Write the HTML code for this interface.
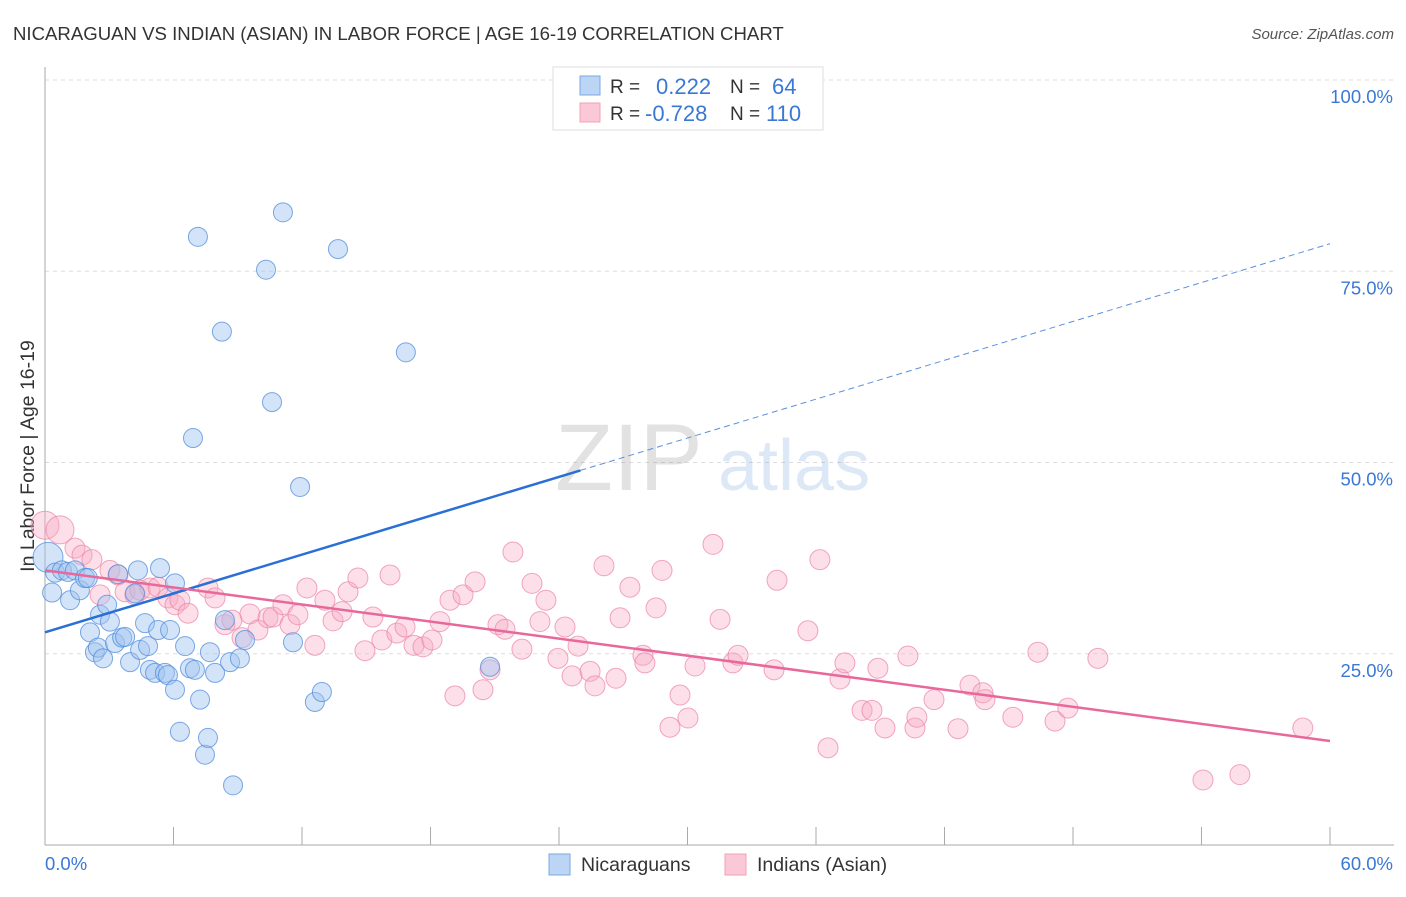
<!DOCTYPE html>
<html><head><meta charset="utf-8"><style>
body{margin:0;background:#fff;font-family:"Liberation Sans",sans-serif;}
svg text{font-family:"Liberation Sans",sans-serif;}
</style></head><body>
<svg id="chart" width="1406" height="892">
<text x="13" y="40" font-size="18.6" fill="#333">NICARAGUAN VS INDIAN (ASIAN) IN LABOR FORCE | AGE 16-19 CORRELATION CHART</text>
<text x="1394" y="39" font-size="15" fill="#555" text-anchor="end" font-style="italic">Source: ZipAtlas.com</text>
<text transform="translate(34,456) rotate(-90)" font-size="19.5" fill="#333" text-anchor="middle">In Labor Force | Age 16-19</text>
<g id="grid"></g>
<g id="wm" opacity="0.18">
<text x="555" y="490" font-size="95" fill="#666" font-family="Liberation Serif">ZIP</text>
<text x="718" y="490" font-size="72" fill="#4a86d8">atlas</text>
</g>
<g id="pts"></g>
<g id="lines"></g>
<g>
<rect x="553" y="67" width="270" height="63" fill="#fff" stroke="#ddd"/>
<rect x="580" y="76" width="20" height="19" fill="#bcd5f5" stroke="#7aa7e3"/>
<rect x="580" y="103" width="20" height="19" fill="#fbc8d7" stroke="#f0a0b8"/>
<text x="610" y="93" font-size="19" fill="#333">R = </text><text x="656" y="94" font-size="22" fill="#3a78d4">0.222</text>
<text x="730" y="93" font-size="19" fill="#333">N = </text><text x="772" y="94" font-size="22" fill="#3a78d4">64</text>
<text x="610" y="120" font-size="19" fill="#333">R = </text><text x="645" y="121" font-size="22" fill="#3a78d4">-0.728</text>
<text x="730" y="120" font-size="19" fill="#333">N = </text><text x="766" y="121" font-size="22" fill="#3a78d4">110</text>
</g>
<g>
<rect x="549" y="854" width="21" height="21" fill="#bcd5f5" stroke="#7aa7e3"/>
<text x="581" y="871" font-size="19.5" fill="#333">Nicaraguans</text>
<rect x="725" y="854" width="21" height="21" fill="#fbc8d7" stroke="#f0a0b8"/>
<text x="757" y="871" font-size="19.5" fill="#333">Indians (Asian)</text>
</g>
</svg>
<script>
const xTicks=[0,6,12,18,24,30,36,42,48,54,60];
const yTicks=[25,50,75,100];
const yTickLabels=["25.0%","50.0%","75.0%","100.0%"];
const xEndLabels=["0.0%","60.0%"];
const nicX=[0.14,0.33,0.47,0.79,1.07,1.17,1.4,1.63,1.87,2.0,2.1,2.33,2.47,2.57,2.71,2.9,3.03,3.27,3.41,3.6,3.74,3.97,4.2,4.34,4.44,4.67,4.81,4.9,5.14,5.28,5.37,5.6,5.74,5.84,6.07,6.07,6.3,6.54,6.77,6.91,7.0,7.14,7.24,7.47,7.61,7.7,7.94,8.26,8.4,8.64,8.78,9.1,9.34,10.32,10.6,11.11,11.58,11.91,12.6,12.93,13.68,16.85,20.78];
const nicY=[37.6,33.0,35.6,35.9,35.7,32.0,35.9,33.3,34.9,34.9,27.8,25.2,25.8,30.1,24.4,31.4,29.2,26.4,35.4,27.1,27.2,23.9,32.9,35.9,25.5,29.0,26.0,22.9,22.5,28.1,36.2,22.5,22.2,28.1,20.3,34.2,14.8,26.0,23.1,53.2,22.9,79.5,19.0,11.8,14.0,25.2,22.5,67.1,29.4,23.9,7.8,24.4,26.8,75.2,57.9,82.7,26.5,46.8,18.7,20.0,77.9,64.4,23.3];
const indX=[0,0.7,1.4,1.73,2.19,2.57,3.03,3.41,3.74,4.2,4.44,4.9,5.28,5.74,6.07,6.3,6.68,7.61,7.94,8.4,8.73,9.2,9.57,9.94,10.41,10.65,11.11,11.44,11.81,12.23,12.6,13.07,13.45,13.87,14.15,14.61,14.94,15.31,15.73,16.11,16.43,16.81,17.23,17.65,18.07,18.44,18.91,19.14,19.52,20.08,20.45,20.78,21.15,21.48,21.85,22.27,22.74,23.11,23.39,23.95,24.28,24.61,24.89,25.45,25.68,26.1,26.66,26.85,27.31,27.92,28.01,28.53,28.81,29.18,29.65,30.02,30.35,31.19,31.52,32.12,32.36,34.04,34.18,35.62,36.18,36.56,37.12,37.35,38.15,38.61,38.89,39.22,40.29,40.62,40.71,41.51,42.63,43.19,43.79,43.89,45.19,46.36,47.16,47.76,49.16,54.07,55.79,58.73];
const indY=[41.8,41.2,38.8,37.9,37.3,32.7,35.9,35.3,33.1,32.7,33.3,33.6,33.7,32.3,31.4,32.0,30.3,33.6,32.3,28.8,29.4,27.1,30.2,28.1,29.7,29.8,31.4,28.8,30.1,33.6,26.1,32.0,29.3,30.5,33.1,34.9,25.4,29.8,26.8,35.3,27.7,28.5,26.1,25.9,26.8,29.2,32.0,19.5,32.7,34.4,20.3,22.9,28.8,28.2,38.3,25.6,34.2,29.2,32.0,24.4,28.5,22.1,26.0,22.7,20.8,36.5,21.8,29.7,33.7,24.8,23.8,31.0,35.9,15.4,19.6,16.6,23.4,39.3,29.5,23.8,24.8,22.9,34.6,28.0,37.3,12.7,21.7,23.8,17.6,17.6,23.1,15.3,24.7,15.3,16.7,19.0,15.2,20.9,19.9,19.0,16.7,25.2,16.2,17.9,24.4,8.5,9.2,15.3];
const nicTrend=[27.8,78.6]; const nicSolidEnd=25.0;
const indTrend=[35.9,13.6];
const NS="http://www.w3.org/2000/svg";
const X0=45,X1=1330,Y0=845,Y100=80;
const sx=v=>X0+(v/60)*(X1-X0);
const sy=v=>Y0-(v/100)*(Y0-Y100);
function mk(tag,attrs,parent){const e=document.createElementNS(NS,tag);for(const k in attrs)e.setAttribute(k,attrs[k]);parent.appendChild(e);return e;}
const grid=document.getElementById('grid');
yTicks.forEach((t,i)=>{
 const l=mk('line',{x1:X0,x2:1394,y1:sy(t),y2:sy(t),stroke:'#ddd','stroke-dasharray':'4,4'},grid);
 
 
 const tx=mk('text',{x:1393,y:sy(t)+23,'font-size':18.5,fill:'#3a78d4','text-anchor':'end'},grid);
 tx.textContent=yTickLabels[i];
 
 
});
const ax=mk('line',{x1:X0,x2:X0,y1:67,y2:Y0,stroke:'#aaa'},grid);


const axx=mk('line',{x1:X0,x2:1394,y1:Y0,y2:Y0,stroke:'#aaa'},grid);


xTicks.forEach(t=>{
 const l=mk('line',{x1:sx(t),x2:sx(t),y1:827,y2:Y0,stroke:'#aaa'},grid);
 
 
});
const xl0=mk('text',{x:X0,y:870,'font-size':18.5,fill:'#3a78d4'},grid);xl0.textContent=xEndLabels[0];


const xl1=mk('text',{x:1393,y:870,'font-size':18.5,fill:'#3a78d4','text-anchor':'end'},grid);xl1.textContent=xEndLabels[1];


const pts=document.getElementById('pts');
indX.forEach((x,i)=>{
 const r=i<2?14:10;
 const c=mk('circle',{cx:sx(x),cy:sy(indY[i]),r:r,fill:'rgba(246,170,196,0.38)',stroke:'rgba(236,130,165,0.7)','stroke-width':1},pts);
 
 
});
nicX.forEach((x,i)=>{
 const r=i===0?15:9.5;
 const c=mk('circle',{cx:sx(x),cy:sy(nicY[i]),r:r,fill:'rgba(160,196,240,0.45)',stroke:'rgba(80,140,220,0.75)','stroke-width':1},pts);
 
 
});
const lines=document.getElementById('lines');
const nf=x=>nicTrend[0]+(nicTrend[1]-nicTrend[0])*x/60;
const l1=mk('line',{x1:sx(0),y1:sy(nf(0)),x2:sx(nicSolidEnd),y2:sy(nf(nicSolidEnd)),stroke:'#2a6fd6','stroke-width':2.5},lines);


const l2=mk('line',{x1:sx(nicSolidEnd),y1:sy(nf(nicSolidEnd)),x2:sx(60),y2:sy(nf(60)),stroke:'#5a90dd','stroke-width':1,'stroke-dasharray':'6,4'},lines);


const l3=mk('line',{x1:sx(0),y1:sy(indTrend[0]),x2:sx(60),y2:sy(indTrend[1]),stroke:'#e8689a','stroke-width':2.5},lines);


</script>
</body></html>
